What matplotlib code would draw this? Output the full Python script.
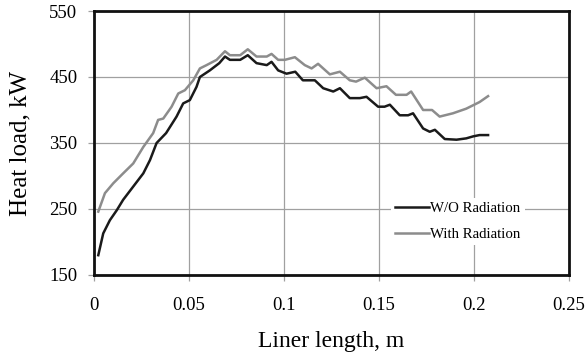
import matplotlib.pyplot as plt
plt.switch_backend('agg')

# liner length (m) and heat load (kW)
x_wo = [0.0023, 0.0049, 0.0084, 0.012, 0.0154, 0.0207, 0.026, 0.0295, 0.033, 0.038,
        0.0435, 0.047, 0.0505, 0.054, 0.0558, 0.061, 0.066, 0.069, 0.0716, 0.077,
        0.081, 0.0856, 0.091, 0.0935, 0.097, 0.1014, 0.106, 0.110, 0.1163, 0.1207,
        0.126, 0.1295, 0.1347, 0.140, 0.1435, 0.1496, 0.153, 0.1558, 0.161, 0.1654,
        0.168, 0.1733, 0.1768, 0.1795, 0.1847, 0.1909, 0.196, 0.1996, 0.203, 0.2075]
y_wo = [180, 213, 233, 248, 264, 284, 304, 324, 350, 365,
        390, 410, 415, 435, 450, 460, 471, 481, 476, 476,
        483, 471, 468, 473, 460, 455, 458, 445, 445, 433,
        428, 433, 418, 418, 420, 405, 405, 408, 392, 392,
        395, 372, 367, 370, 356, 355, 357, 360, 362, 362]

x_rad = [0.0023, 0.0058, 0.0102, 0.0154, 0.0207, 0.026, 0.0312, 0.0338, 0.0365, 0.0409,
         0.0444, 0.0479, 0.0523, 0.0558, 0.0593, 0.0646, 0.069, 0.0716, 0.077, 0.081,
         0.0856, 0.091, 0.0935, 0.097, 0.1005, 0.1058, 0.111, 0.1146, 0.118, 0.1242,
         0.1295, 0.1347, 0.138, 0.1426, 0.1488, 0.154, 0.159, 0.1646, 0.167, 0.1733,
         0.178, 0.182, 0.189, 0.196, 0.203, 0.2075]
y_rad = [246, 274, 289, 304, 319, 344, 365, 385, 387, 405,
         425, 430, 445, 463, 468, 476, 489, 483, 483, 492,
         481, 481, 485, 476, 476, 480, 468, 463, 470, 454,
         458, 445, 443, 449, 433, 436, 423, 423, 428, 400,
         400, 390, 395, 402, 412, 421]

x_ticks = [0, 0.05, 0.1, 0.15, 0.2, 0.25]
x_ticklabels = ['0', '0.05', '0.1', '0.15', '0.2', '0.25']
y_ticks = [150, 250, 350, 450, 550]

plt.rcParams['font.family'] = ['Liberation Serif', 'DejaVu Serif']

fig = plt.figure(figsize=(5.87, 3.55), dpi=100)
ax = fig.add_axes([0.16, 0.2254, 0.809, 0.7436])

ax.plot(x_wo, y_wo, color='#1a1a1a', lw=1.8, label='W/O Radiation')
ax.plot(x_rad, y_rad, color='#8c8c8c', lw=1.8, label='With Radiation')

ax.set_xlim(0, 0.25)
ax.set_ylim(150, 550)
ax.set_xticks(x_ticks)
ax.set_xticklabels(x_ticklabels)
ax.set_yticks(y_ticks)
ax.grid(True, color='#a0a0a0', lw=0.9)
ax.set_axisbelow(True)
ax.tick_params(direction='out', length=4, width=0.9, color='#a0a0a0',
               labelsize=13.5)
ax.tick_params(axis='x', pad=12)
ax.tick_params(axis='y', pad=8)
for s in ax.spines.values():
    s.set_linewidth(2)
    s.set_color('#111111')

ax.set_xlabel('Liner length, m', fontsize=17, labelpad=12)
ax.set_ylabel('Heat load, kW', fontsize=18, labelpad=13)

leg = ax.legend(loc='center', bbox_to_anchor=(0.766, 0.203), frameon=True,
                edgecolor='none', facecolor='white', framealpha=1,
                fontsize=10.7, handlelength=2.3, handletextpad=0.05,
                borderpad=0.3, labelspacing=0.8)
leg.get_frame().set_boxstyle('square', pad=0)

fig.savefig('out.png', dpi=100)
